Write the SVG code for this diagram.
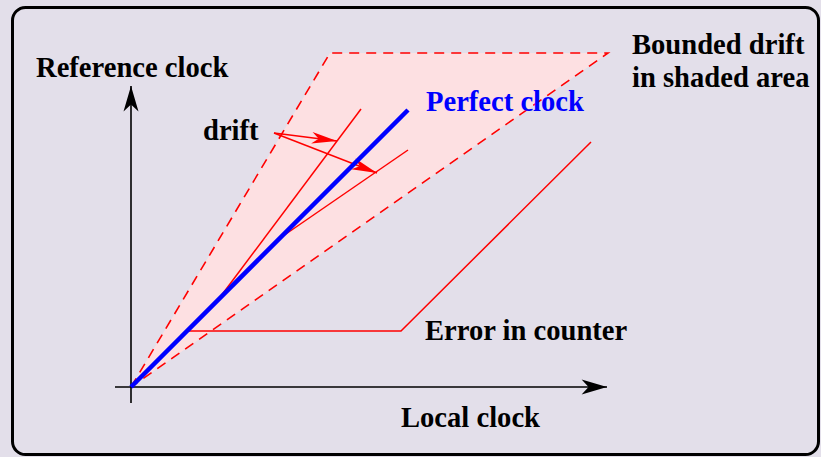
<svg xmlns="http://www.w3.org/2000/svg" width="821" height="457" viewBox="0 0 821 457">
  <defs>
    <style>
      .lbl { font-family: "Liberation Serif", "Times New Roman", serif; font-weight: bold; font-size: 28.6px; fill: #000; }
      .blue { fill: #0000ff; }
      .axis { stroke: #000; stroke-width: 1.6; fill: none; }
      .red { stroke: #ff0000; stroke-width: 1.5; fill: none; }
      .dash { stroke: #ff0000; stroke-width: 1.6; fill: none; stroke-dasharray: 10 7; }
    </style>
    <marker id="blackHead" markerUnits="userSpaceOnUse" markerWidth="30" markerHeight="20" viewBox="-24 -8 26 16" refX="0" refY="0" orient="auto">
      <path d="M0,0 L-22,-6.5 L-16,0 L-22,6.5 Z" fill="#000"/>
    </marker>
    <marker id="redHead" markerUnits="userSpaceOnUse" markerWidth="30" markerHeight="20" viewBox="-24 -8 26 16" refX="0" refY="0" orient="auto">
      <path d="M0,0 L-22,-5 L-16,0 L-22,5 Z" fill="#ff0000"/>
    </marker>
  </defs>

  <rect x="0" y="0" width="821" height="457" fill="#e3dfea"/>
  <rect id="frame" x="12.5" y="7.5" width="806" height="447" rx="13" ry="13" fill="#e3dfea" stroke="#000" stroke-width="3"/>

  <g id="shaded-area">
    <polygon points="131,387 330,53 608,53" fill="#fde0e2" stroke="none"/>
    <path class="dash" d="M131,387 L330,53 L608,53 L131,387"/>
  </g>

  <g id="connectors">
    <line class="axis" x1="131" y1="403" x2="131" y2="86" marker-end="url(#blackHead)"/>
    <line class="axis" x1="115" y1="387" x2="607" y2="387" marker-end="url(#blackHead)"/>
    <line class="red" x1="218" y1="300" x2="361" y2="109"/>
    <line class="red" x1="283" y1="236" x2="408" y2="150"/>
    <polyline class="red" points="188,331 401,331 591,142"/>
    <line class="red" x1="274" y1="133" x2="337" y2="141" marker-end="url(#redHead)"/>
    <line class="red" x1="274" y1="133" x2="377" y2="173" marker-end="url(#redHead)"/>
    <line x1="131" y1="387" x2="408" y2="110" stroke="#0000ff" stroke-width="4.5"/>
  </g>

  <g id="reference-clock"><text class="lbl" x="36" y="77">Reference clock</text></g>
  <g id="local-clock"><text class="lbl" x="401" y="427">Local clock</text></g>
  <g id="perfect-clock"><text class="lbl blue" x="426" y="111">Perfect clock</text></g>
  <g id="drift"><text class="lbl" x="203" y="140">drift</text></g>
  <g id="bounded-drift"><text class="lbl" x="632" y="54">Bounded drift</text><text class="lbl" x="632" y="87">in shaded area</text></g>
  <g id="error-in-counter"><text class="lbl" x="425" y="340">Error in counter</text></g>
</svg>
